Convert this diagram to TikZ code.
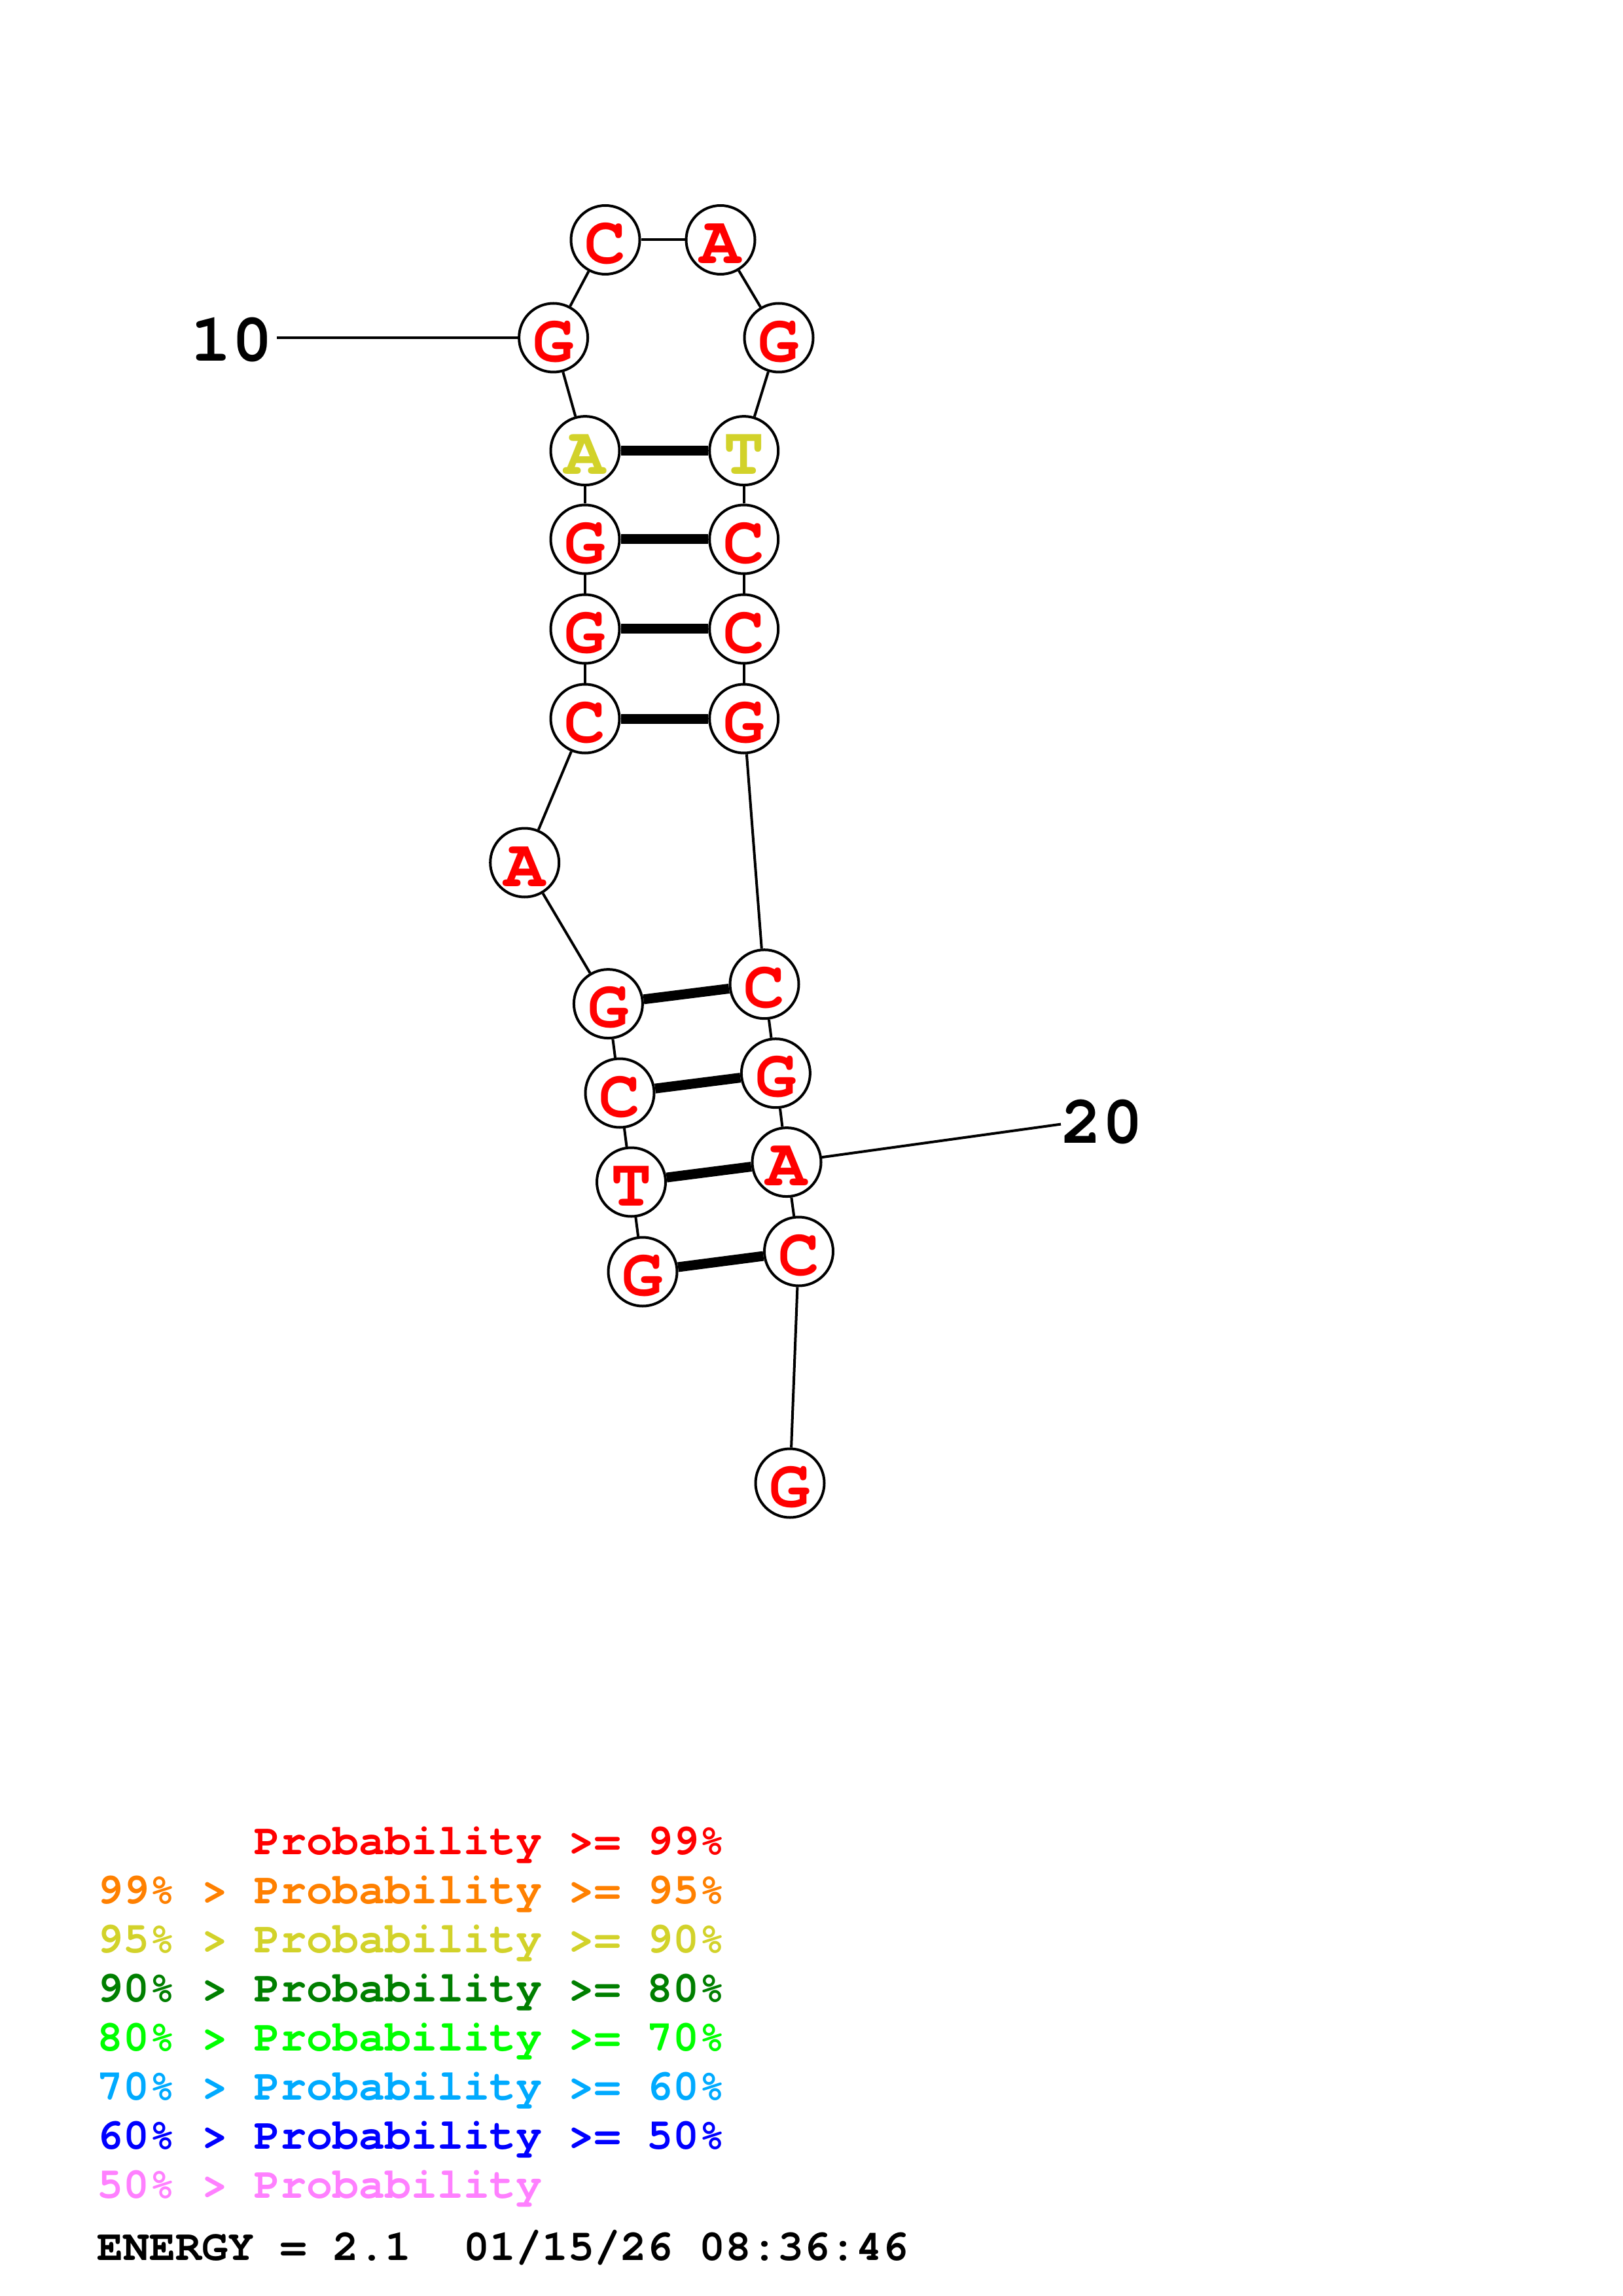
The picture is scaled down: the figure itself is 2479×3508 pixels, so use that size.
\documentclass[tikz,border=0pt]{standalone}
\usepackage{fontspec}
\newfontfamily\cour{TeX Gyre Cursor}
\definecolor{pred}{HTML}{FF0000}
\definecolor{porange}{HTML}{FF8000}
\definecolor{pyellow}{HTML}{D2D22A}
\definecolor{pdgreen}{HTML}{007F00}
\definecolor{pgreen}{HTML}{00FF00}
\definecolor{plblue}{HTML}{00AAFF}
\definecolor{pblue}{HTML}{0000FF}
\definecolor{ppink}{HTML}{FF80FF}
\begin{document}
\begin{tikzpicture}[x=0.24pt,y=-0.24pt,
  base/.style={circle,draw=black,line width=0.96pt,fill=white,minimum size=25.2pt,inner sep=0pt,
    font=\cour\bfseries\fontsize{25}{25}\selectfont,text=pred,text height=17.3pt,text depth=0pt},
  basey/.style={base,text=pyellow},
  bb/.style={line width=0.96pt},
  pair/.style={line width=3.6pt},
  numlab/.style={inner sep=0pt,anchor=base,font=\cour\bfseries\fontsize{25}{25}\selectfont},
  leg/.style={inner sep=0pt,anchor=base west,font=\cour\bfseries\fontsize{16}{16}\selectfont}]
\useasboundingbox (0,0) rectangle (2479,3508);
% nucleotides
\node[base]  (n1)  at (982,1943)    {G};
\node[base]  (n2)  at (964.5,1806)  {T};
\node[base]  (n3)  at (947,1670)    {C};
\node[base]  (n4)  at (929.4,1533.6){G};
\node[base]  (n5)  at (801.7,1318)  {A};
\node[base]  (n6)  at (894,1098)    {C};
\node[base]  (n7)  at (894,961)     {G};
\node[base]  (n8)  at (894,824)     {G};
\node[basey] (n9)  at (894,688.6)   {A};
\node[base]  (n10) at (845.6,516)   {G};
\node[base]  (n11) at (925,366.5)   {C};
\node[base]  (n12) at (1101,366.5)  {A};
\node[base]  (n13) at (1190,516)    {G};
\node[basey] (n14) at (1136.7,688.6){T};
\node[base]  (n15) at (1136.7,824)  {C};
\node[base]  (n16) at (1136.7,961)  {C};
\node[base]  (n17) at (1136.7,1098) {G};
\node[base]  (n18) at (1168,1503.7) {C};
\node[base]  (n19) at (1185.4,1639.7){G};
\node[base]  (n20) at (1202,1775.6) {A};
\node[base]  (n21) at (1220.5,1912) {C};
\node[base]  (n22) at (1207,2266)   {G};
% backbone
\foreach \a/\b in {1/2,2/3,3/4,4/5,5/6,6/7,7/8,8/9,9/10,10/11,11/12,12/13,13/14,14/15,15/16,16/17,17/18,18/19,19/20,20/21,21/22}
  \draw[bb] (n\a) -- (n\b);
% pairs
\foreach \a/\b in {1/21,2/20,3/19,4/18,6/17,7/16,8/15,9/14}
  \draw[pair] (n\a) -- (n\b);
% number labels
\node[numlab] (t10) at (354,551.7) {10};
\coordinate (c10) at (423,516);
\draw[bb] (c10) -- (n10);
\node[numlab] (t20) at (1684,1746.7) {20};
\coordinate (c20) at (1621,1717.6);
\draw[bb] (n20) -- (c20);
% legend
\node[leg,text=pred]    (g1) at (148,2833) {\phantom{99\% > }Probability >= 99\%};
\node[leg,text=porange] (g2) at (148,2908) {99\% > Probability >= 95\%};
\node[leg,text=pyellow] (g3) at (148,2983) {95\% > Probability >= 90\%};
\node[leg,text=pdgreen] (g4) at (148,3058) {90\% > Probability >= 80\%};
\node[leg,text=pgreen]  (g5) at (148,3133) {80\% > Probability >= 70\%};
\node[leg,text=plblue]  (g6) at (148,3208) {70\% > Probability >= 60\%};
\node[leg,text=pblue]   (g7) at (148,3283) {60\% > Probability >= 50\%};
\node[leg,text=ppink]   (g8) at (148,3358) {50\% > Probability};
\node[leg,text=black]   (en) at (148,3453) {ENERGY = 2.1\ \ 01/15/26 08:36:46};
\end{tikzpicture}
\end{document}
